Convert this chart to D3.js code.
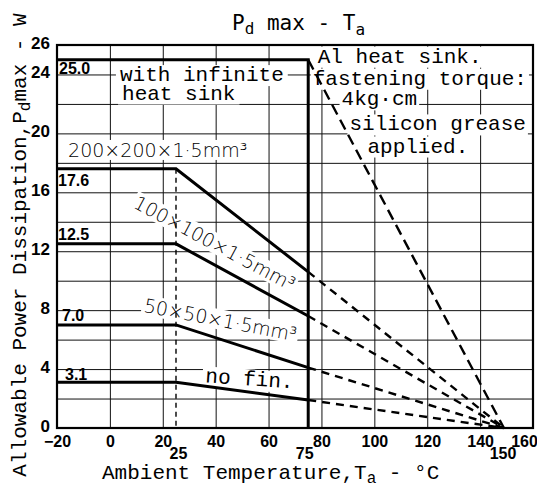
<!DOCTYPE html>
<html><head><meta charset="utf-8">
<script src="https://cdn.jsdelivr.net/npm/d3@7"></script>
<style>body{margin:0;background:#fff}svg{display:block}</style>
</head><body><svg id="c" width="537" height="489"></svg>
<script>
// ---- data ----
const xTicks = [-20, 0, 20, 40, 60, 80, 100, 120, 140, 160];
const xExtraTicks = [25, 75, 150];
const yTicks = [0, 4, 8, 12, 16, 20, 24, 26];
const xGrid = [0, 20, 40, 60, 80, 100, 120, 140];
const yGrid = [2, 4, 6, 8, 10, 12, 14, 16, 18, 20, 22, 24];
const tempPoints = [-20, 25, 75, 149];
const pdInfinite = [25.0, 25.0, 25.0, 0];
const pd200 = [17.6, 17.6, 10.6, 0];
const pd100 = [12.5, 12.5, 7.6, 0];
const pd50 = [7.0, 7.0, 4.1, 0];
const pdNoFin = [3.1, 3.1, 1.9, 0];
const valueLabels = ["25.0", "17.6", "12.5", "7.0", "3.1"];
const sinkLabels = ["200×200×1·5mm³", "100×100×1·5mm³", "50×50×1·5mm³", "no fin."];
const infiniteLabel = ["with infinite", "heat sink"];
const noteLines = ["Al heat sink.", "fastening torque:", "4kg·cm", "silicon grease", "applied."];

// ---- setup ----
const svg = d3.select("#c");
const x = d3.scaleLinear().domain([-20, 160]).range([57, 533]);
const y = d3.scaleLinear().domain([0, 26]).range([428, 45]);
const MONO = "'Liberation Mono','DejaVu Sans Mono',monospace";
const BOLD = "'Liberation Sans',Arial,sans-serif";
const SANS = "'DejaVu Sans',sans-serif";

// grid
svg.append("g").attr("transform", `translate(0,${y(0)})`)
  .call(d3.axisBottom(x).tickValues(xGrid).tickSize(-(y(0) - y(26))).tickFormat(""))
  .call(g => { g.select(".domain").remove(); g.selectAll("line").attr("stroke", "#111").attr("stroke-width", 1); });
svg.append("g").attr("transform", `translate(${x(-20)},0)`)
  .call(d3.axisLeft(y).tickValues(yGrid).tickSize(-(x(160) - x(-20))).tickFormat(""))
  .call(g => { g.select(".domain").remove(); g.selectAll("line").attr("stroke", "#111").attr("stroke-width", 1); });

// helper: text with white box behind
function boxedText(parent, str, tx, ty, opts) {
  const g = parent.append("g").attr("transform", `translate(${tx},${ty}) rotate(${opts.rot || 0})`);
  const r = g.append("rect").attr("fill", "#fff");
  const t = g.append("text").attr("font-family", opts.font).attr("font-size", opts.size)
    .attr("font-weight", opts.weight || "normal").attr("fill", "#000").text(str);
  const b = t.node().getBBox();
  const p = opts.pad == null ? 2 : opts.pad;
  r.attr("x", b.x - p).attr("y", b.y + 1).attr("width", b.width + 2 * p).attr("height", b.height - 2);
  return g;
}

// sink labels
boxedText(svg, sinkLabels[0], x(-15.8), y(18.4), {font: SANS, size: 19, weight: 300, pad: 4});
boxedText(svg, sinkLabels[1], x(8.5), y(15.0), {font: SANS, size: 19, weight: 300, rot: 28, pad: 2});
boxedText(svg, sinkLabels[2], x(12.5), y(7.9), {font: SANS, size: 19, weight: 300, rot: 11, pad: 2});
boxedText(svg, sinkLabels[3], x(36), y(3.1), {font: MONO, size: 21, rot: 4, pad: 3});

// infinite heat sink label
boxedText(svg, infiniteLabel[0], x(3.8), y(23.55), {font: MONO, size: 21, pad: 4});
boxedText(svg, infiniteLabel[1], x(4.6), y(22.3), {font: MONO, size: 21, pad: 4});

// note block
const notePos = [[78.6, 24.8], [76.7, 23.3], [87.6, 21.9], [90.6, 20.2], [97.4, 18.7]];
noteLines.forEach((s, i) => boxedText(svg, s, x(notePos[i][0]), y(notePos[i][1]), {font: MONO, size: 21, pad: 2}));

// value labels
const valueSeries = [pdInfinite, pd200, pd100, pd50, pdNoFin];
const valDx = [2, 1, 1, 5, 8];
const valDy = [14, 17, -4, -4, -2];
valueLabels.forEach((s, i) => {
  svg.append("text").attr("x", x(tempPoints[0]) + valDx[i]).attr("y", y(valueSeries[i][0]) + valDy[i])
    .attr("font-family", BOLD).attr("font-weight", "bold").attr("font-size", 16).text(s);
});

// frame
svg.append("rect").attr("x", x(-20)).attr("y", y(26)).attr("width", x(160) - x(-20)).attr("height", y(0) - y(26))
  .attr("fill", "none").attr("stroke", "#000").attr("stroke-width", 2.2);

// vertical dashed at knee
svg.append("line").attr("x1", x(tempPoints[1])).attr("x2", x(tempPoints[1]))
  .attr("y1", y(pd200[1])).attr("y2", y(0)).attr("stroke", "#000").attr("stroke-width", 1.4).attr("stroke-dasharray", "5,4");

const line = d3.line().x(d => x(d[0])).y(d => y(d[1]));
// solid curves
const finned = [pd200, pd100, pd50, pdNoFin];
finned.forEach(s => {
  svg.append("path").attr("d", line([0, 1, 2].map(i => [tempPoints[i], s[i]])))
    .attr("fill", "none").attr("stroke", "#000").attr("stroke-width", 3);
  svg.append("path").attr("d", line([2, 3].map(i => [tempPoints[i], s[i]])))
    .attr("fill", "none").attr("stroke", "#000").attr("stroke-width", 2.4).attr("stroke-dasharray", "8,6");
});
svg.append("path").attr("d", line([[tempPoints[0], pdInfinite[0]], [tempPoints[2], pdInfinite[2]], [tempPoints[2], 0]]))
  .attr("fill", "none").attr("stroke", "#000").attr("stroke-width", 3);
svg.append("path").attr("d", line([2, 3].map(i => [tempPoints[i], pdInfinite[i]])))
  .attr("fill", "none").attr("stroke", "#000").attr("stroke-width", 2.4).attr("stroke-dasharray", "11,6");

// axes labels
function styleTicks(g, size) {
  g.select(".domain").remove();
  g.selectAll("text").attr("font-family", BOLD).attr("font-weight", "bold").attr("font-size", size).attr("fill", "#000");
}
svg.append("g").attr("transform", `translate(0,${y(0)})`)
  .call(d3.axisBottom(x).tickValues(xTicks).tickSize(0).tickPadding(8)).call(g => styleTicks(g, 16))
  .selectAll("text").attr("dx", d => d === 160 ? -9 : 0);
const extraDx = [2, -4, -4];
svg.append("g").attr("transform", `translate(0,${y(0)})`)
  .call(d3.axisBottom(x).tickValues(xExtraTicks).tickSize(0).tickPadding(20)).call(g => styleTicks(g, 16))
  .selectAll("text").attr("dx", (d, i) => extraDx[i]);
svg.append("g").attr("transform", `translate(${x(-20)},0)`)
  .call(d3.axisLeft(y).tickValues(yTicks).tickSize(0).tickPadding(7)).call(g => styleTicks(g, 17))
  .selectAll("text").attr("dy", "0.2em");

// title
const title = svg.append("text").attr("x", 232).attr("y", 30).attr("font-family", "'DejaVu Sans Mono',monospace").attr("font-size", 21);
title.append("tspan").text("P");
title.append("tspan").attr("dy", 4).attr("font-size", 16).text("d");
title.append("tspan").attr("dy", -4).text(" max - T");
title.append("tspan").attr("dy", 5).attr("font-size", 16).text("a");

// x label
const xl = svg.append("text").attr("x", 102).attr("y", 479).attr("font-family", MONO).attr("font-size", 21);
xl.append("tspan").text("Ambient Temperature,T");
xl.append("tspan").attr("dy", 4).attr("font-size", 16).text("a");
xl.append("tspan").attr("dy", -4).text(" - °C");

// y label
const yl = svg.append("text").attr("transform", "translate(26,245) rotate(-90)").attr("text-anchor", "middle")
  .attr("font-family", MONO).attr("font-size", 21);
yl.append("tspan").text("Allowable Power Dissipation,P");
yl.append("tspan").attr("dy", 4).attr("font-size", 16).text("d");
yl.append("tspan").attr("dy", -4).text("max - W");
</script></body></html>
